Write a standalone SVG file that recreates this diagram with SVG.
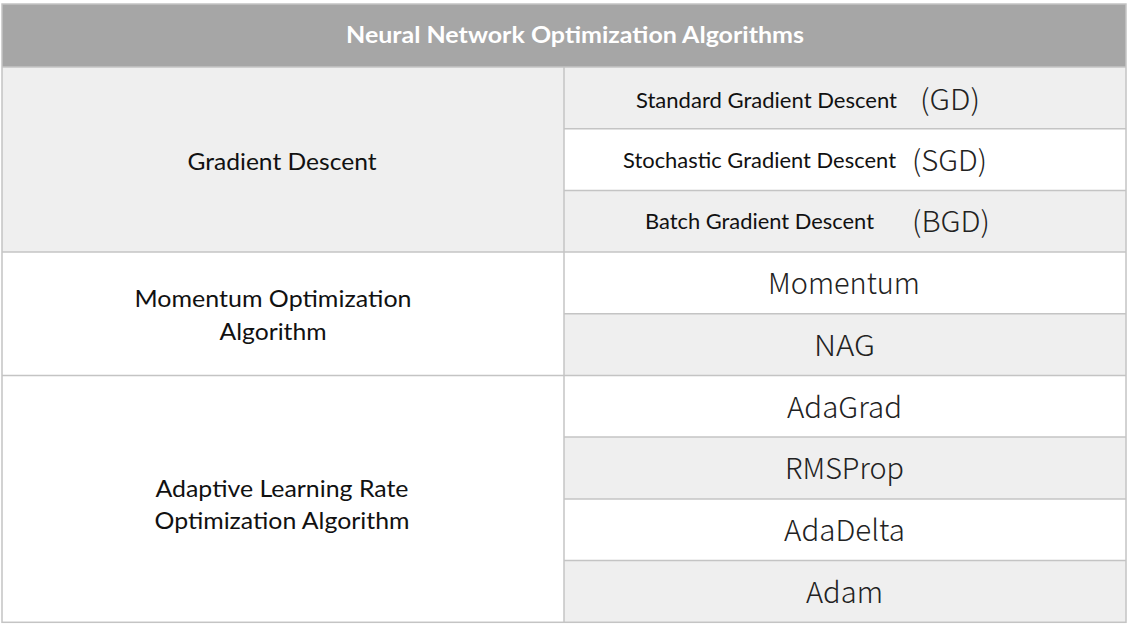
<svg xmlns="http://www.w3.org/2000/svg" width="1131" height="627" viewBox="0 0 1131 627">
<style>
.grid{stroke:#c4c4c4;stroke-width:1.5;fill:none}
.g{fill:#efefef}
.w{fill:#ffffff}
.hdr{font-family:Lato,"Liberation Sans",sans-serif;font-weight:bold;font-size:23px;fill:#ffffff;text-anchor:middle}
.cat{font-family:Lato,"Open Sans",sans-serif;font-size:24px;fill:#111111;text-anchor:middle}
.sub{font-family:Lato,"Open Sans",sans-serif;font-size:21px;fill:#111111;text-anchor:middle}
.ab{font-family:"Noto Sans CJK SC","Noto Sans",sans-serif;font-weight:300;font-size:29px;fill:#222222;text-anchor:middle}
.alg{font-family:"Noto Sans CJK SC","Noto Sans",sans-serif;font-weight:300;font-size:29px;fill:#222222;text-anchor:middle}
</style>
<rect x="0" y="0" width="1131" height="627" fill="#ffffff"/>
<g id="header">
<rect x="2" y="4" width="1124" height="63" fill="#a6a6a6"/>
<text class="hdr" x="575" y="43" textLength="458" lengthAdjust="spacingAndGlyphs">Neural Network Optimization Algorithms</text>
</g>
<g id="cat-gd">
<rect class="g" x="2" y="67" width="562" height="185"/>
<text class="cat" x="282" y="170" textLength="189" lengthAdjust="spacingAndGlyphs">Gradient Descent</text>
</g>
<g id="cat-momentum">
<rect class="w" x="2" y="252" width="562" height="124"/>
<text class="cat" x="273" y="307" textLength="277" lengthAdjust="spacingAndGlyphs">Momentum Optimization</text>
<text class="cat" x="273" y="340" textLength="107" lengthAdjust="spacingAndGlyphs">Algorithm</text>
</g>
<g id="cat-adaptive">
<rect class="w" x="2" y="376" width="562" height="246"/>
<text class="cat" x="282" y="497" textLength="253" lengthAdjust="spacingAndGlyphs">Adaptive Learning Rate</text>
<text class="cat" x="282" y="529" textLength="255" lengthAdjust="spacingAndGlyphs">Optimization Algorithm</text>
</g>
<g id="gd">
<rect class="g" x="564" y="67" width="562" height="61.7"/>
<text class="sub" x="766.5" y="108" textLength="261" lengthAdjust="spacingAndGlyphs">Standard Gradient Descent</text>
<text class="ab" x="950" y="110" textLength="60" lengthAdjust="spacingAndGlyphs">(GD)</text>
</g>
<g id="sgd">
<rect class="w" x="564" y="128.7" width="562" height="61.7"/>
<text class="sub" x="759.5" y="168" textLength="273" lengthAdjust="spacingAndGlyphs">Stochastic Gradient Descent</text>
<text class="ab" x="949.5" y="171" textLength="75" lengthAdjust="spacingAndGlyphs">(SGD)</text>
</g>
<g id="bgd">
<rect class="g" x="564" y="190.4" width="562" height="61.6"/>
<text class="sub" x="759.5" y="229" textLength="229" lengthAdjust="spacingAndGlyphs">Batch Gradient Descent</text>
<text class="ab" x="951" y="232" textLength="78" lengthAdjust="spacingAndGlyphs">(BGD)</text>
</g>
<g id="momentum">
<rect class="w" x="564" y="252" width="562" height="61.8"/>
<text class="alg" x="844" y="294" textLength="152" lengthAdjust="spacingAndGlyphs">Momentum</text>
</g>
<g id="nag">
<rect class="g" x="564" y="313.8" width="562" height="61.7"/>
<text class="alg" x="844.5" y="356" textLength="61" lengthAdjust="spacingAndGlyphs">NAG</text>
</g>
<g id="adagrad">
<rect class="w" x="564" y="375.5" width="562" height="61.5"/>
<text class="alg" x="844.5" y="418" textLength="115" lengthAdjust="spacingAndGlyphs">AdaGrad</text>
</g>
<g id="rmsprop">
<rect class="g" x="564" y="437" width="562" height="62"/>
<text class="alg" x="844.5" y="479" textLength="119" lengthAdjust="spacingAndGlyphs">RMSProp</text>
</g>
<g id="adadelta">
<rect class="w" x="564" y="499" width="562" height="61.6"/>
<text class="alg" x="844.5" y="541" textLength="121" lengthAdjust="spacingAndGlyphs">AdaDelta</text>
</g>
<g id="adam">
<rect class="g" x="564" y="560.6" width="562" height="61.7"/>
<text class="alg" x="844.5" y="603" textLength="77" lengthAdjust="spacingAndGlyphs">Adam</text>
</g>
<g id="connectors" class="grid">
<rect x="2" y="4" width="1124" height="618.3"/>
<line x1="2" y1="67" x2="1126" y2="67"/>
<line x1="564" y1="67" x2="564" y2="622.3"/>
<line x1="564" y1="128.7" x2="1126" y2="128.7"/>
<line x1="564" y1="190.4" x2="1126" y2="190.4"/>
<line x1="2" y1="252" x2="1126" y2="252"/>
<line x1="564" y1="313.8" x2="1126" y2="313.8"/>
<line x1="2" y1="375.5" x2="1126" y2="375.5"/>
<line x1="564" y1="437" x2="1126" y2="437"/>
<line x1="564" y1="499" x2="1126" y2="499"/>
<line x1="564" y1="560.6" x2="1126" y2="560.6"/>
</g>
</svg>
